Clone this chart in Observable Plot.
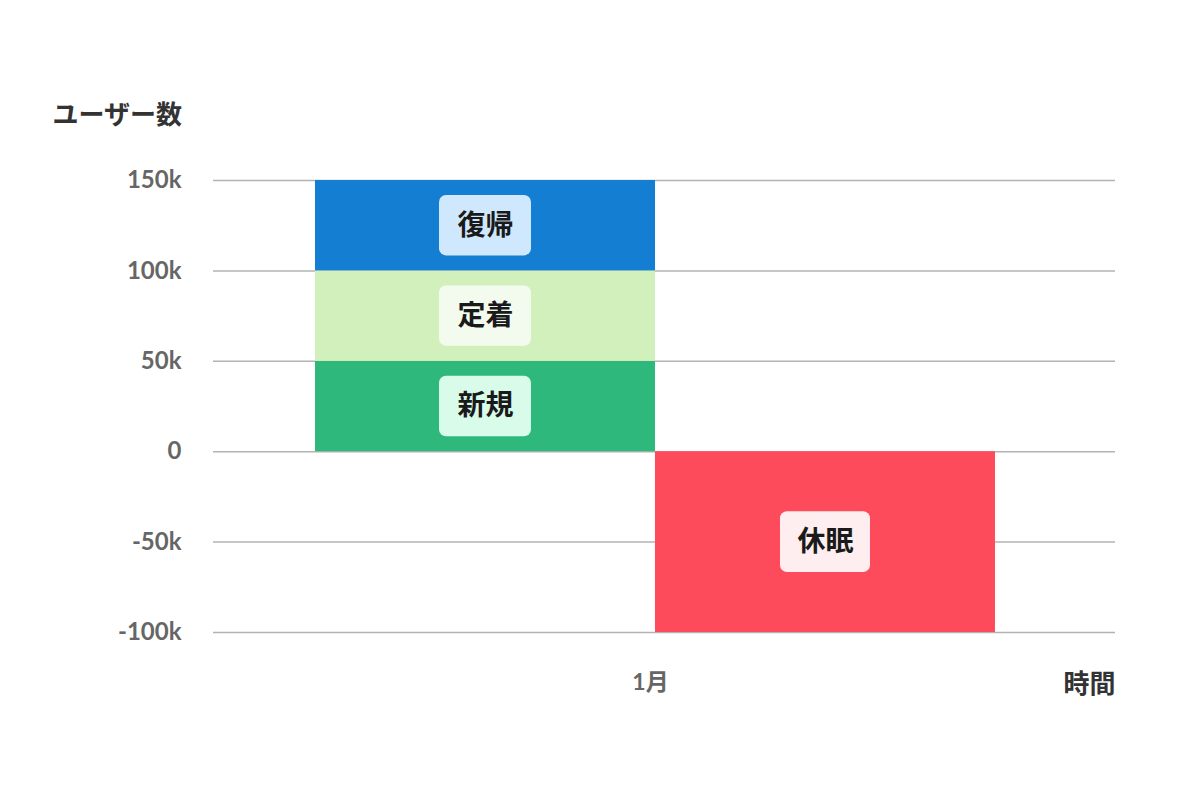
<!DOCTYPE html>
<html>
<head>
<meta charset="utf-8">
<script src="https://cdn.jsdelivr.net/npm/d3@7"></script>
<script src="https://cdn.jsdelivr.net/npm/@observablehq/plot@0.6"></script>
<style>
  html, body { margin: 0; padding: 0; background: #fff; }
  #chart { width: 1200px; height: 800px; }
</style>
</head>
<body>
<div id="chart"></div>
<script>
// ---- data ----
const categories = ["新規", "定着", "復帰", "休眠"];
const values = [50000, 50000, 50000, -100000];
const periodStart = [-1, -1, -1, 0];   // bar spans [start, start+1] in month units
const barColors = ["#2eb87c", "#d1f0bc", "#137ed2", "#fe4b5c"];
const labelFills = ["#d8fbea", "#f3fbee", "#d0e8fd", "#ffeef0"];
const yTicks = [-100000, -50000, 0, 50000, 100000, 150000];
const xTicks = [0];
const xTickLabels = ["1月"];
const yTitle = "ユーザー数";
const xTitle = "時間";

// build stacked table
let posSum = 0, negSum = 0;
const data = categories.map((c, i) => {
  const v = values[i];
  let y1, y2;
  if (v >= 0) { y1 = posSum; y2 = posSum + v; posSum = y2; }
  else { y1 = negSum; y2 = negSum + v; negSum = y2; }
  return { cat: c, x1: periodStart[i], x2: periodStart[i] + 1, y1, y2, color: barColors[i], lab: labelFills[i], mid: (y1 + y2) / 2, xm: periodStart[i] + 0.5, pos: v >= 0 };
});

const fontStack = "Lato, 'Noto Sans CJK JP', sans-serif";
const jpFont = "'Noto Sans CJK JP', Lato, sans-serif";

const chart = Plot.plot({
  width: 1200,
  height: 800,
  marginLeft: 213,
  marginRight: 85,
  marginTop: 180,
  marginBottom: 168,
  style: { fontFamily: fontStack, background: "#fff" },
  x: { domain: [-1.3, 1.353], axis: null },
  y: { domain: [-100000, 150000], axis: null },
  marks: [
    Plot.ruleY(yTicks, { stroke: "#b3b3b3", strokeWidth: 1.5 }),
    Plot.rect(data, { x1: "x1", x2: "x2", y1: "y1", y2: "y2", fill: "color" }),
    Plot.rect(data.filter(d => d.pos), { x1: "x1", x2: "x2", y1: "y1", y2: "y2", fill: "lab", insetLeft: 124, insetRight: 124, insetTop: 15, insetBottom: 15, rx: 7 }),
    Plot.rect(data.filter(d => !d.pos), { x1: "x1", x2: "x2", y1: "y1", y2: "y2", fill: "lab", insetLeft: 125, insetRight: 125, insetTop: 60, insetBottom: 60, rx: 7 }),
    Plot.text(data, { x: "xm", y: "mid", text: "cat", fontSize: 28, fontWeight: 700, fill: "#1a1a1a", fontFamily: jpFont }),
    Plot.axisY({ ticks: yTicks, tickSize: 0, tickPadding: 32, tickFormat: v => v === 0 ? "0" : (v < 0 ? "-" : "") + Math.abs(v / 1000) + "k", fontSize: 24, fontWeight: 700, fill: "#666", label: null }),
    Plot.axisX({ ticks: xTicks, tickSize: 0, tickPadding: 41, tickFormat: v => xTickLabels[xTicks.indexOf(v)], fontSize: 23, fontWeight: 700, fill: "#666", label: null, dx: -5 }),
    Plot.text([yTitle], { text: d => d, frameAnchor: "top-left", dx: -161, dy: -65, textAnchor: "start", lineAnchor: "middle", fontSize: 26, fontWeight: 700, fill: "#333", fontFamily: jpFont }),
    Plot.text([xTitle], { text: d => d, frameAnchor: "bottom-right", dy: 52, textAnchor: "end", lineAnchor: "middle", fontSize: 26, fontWeight: 700, fill: "#333", fontFamily: jpFont })
  ]
});
document.getElementById("chart").appendChild(chart);
</script>
</body>
</html>
